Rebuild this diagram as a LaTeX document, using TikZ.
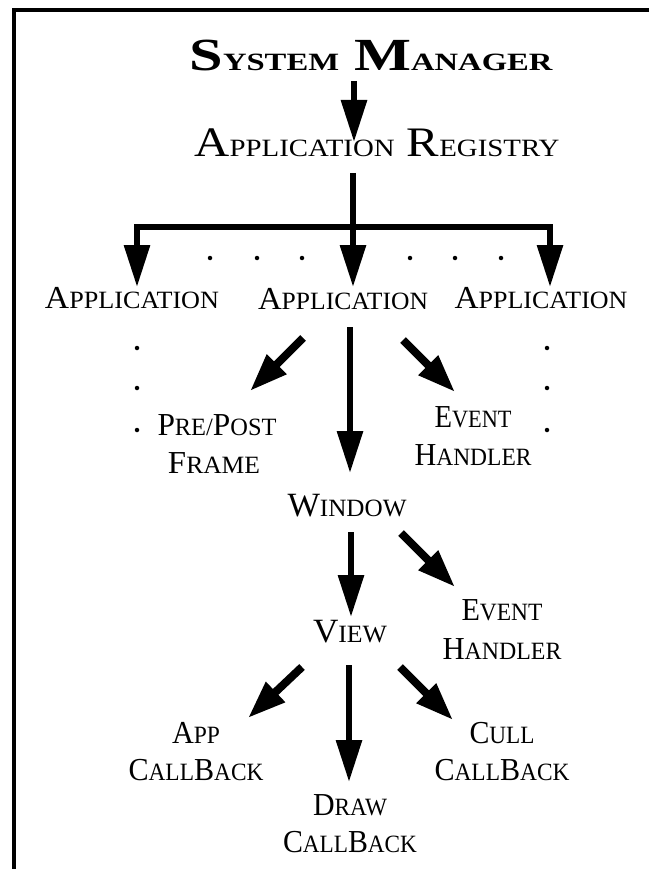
\documentclass[tikz,border=0pt]{standalone}
\usepackage{fontspec}
\setmainfont{Liberation Serif}
\usepackage{relsize}
\usepackage{graphicx}
\usetikzlibrary{arrows.meta}
\newcommand\sk[2]{#1{\relscale{0.76}#2}}
\newcommand\fitw[2]{\resizebox{#1pt}{\height}{#2}}
\begin{document}
\begin{tikzpicture}[x=1pt,y=-1pt,
  lbl/.style={inner sep=0pt, anchor=base, font=\fontsize{32}{38}\selectfont},
  biglbl/.style={lbl, font=\fontsize{34}{40}\selectfont},
  arr/.style={line width=6pt, -{Triangle[length=42pt,width=25pt]}},
  darr/.style={line width=8pt, -{Triangle[length=38pt,width=26pt]}},
  spot/.style={circle, fill, inner sep=0pt, minimum size=4.5pt},
  frame/.style={line width=4pt, line join=miter}]
\useasboundingbox (0,0) rectangle (649,869);
% partial frame
\draw[frame] (649,10) -- (14,10) -- (14,869);
% labels
\node[lbl, font=\bfseries\fontsize{46}{50}\selectfont] (sm) at (371,71) {\fitw{363}{\sk{S}{YSTEM} \sk{M}{ANAGER}}};
\node[lbl, font=\fontsize{42}{48}\selectfont] (ar) at (377,157) {\fitw{365}{\sk{A}{PPLICATION} \sk{R}{EGISTRY}}};
\node[lbl] (app1) at (132,308) {\fitw{174}{\sk{A}{PPLICATION}}};
\node[lbl] (app2) at (343,309) {\fitw{170}{\sk{A}{PPLICATION}}};
\node[lbl] (app3) at (541,308) {\fitw{173}{\sk{A}{PPLICATION}}};
\node[lbl] (pp1) at (217,435) {\fitw{119}{\sk{P}{RE/}\sk{P}{OST}}};
\node[lbl] (pp2) at (214,473) {\fitw{92}{\sk{F}{RAME}}};
\node[lbl] (eh1a) at (473,427) {\fitw{77}{\sk{E}{VENT}}};
\node[lbl] (eh1b) at (473,465) {\fitw{117}{\sk{H}{ANDLER}}};
\node[biglbl] (win) at (347,516) {\fitw{119}{\sk{W}{INDOW}}};
\node[biglbl] (view) at (350,642) {\fitw{74}{\sk{V}{IEW}}};
\node[lbl] (eh2a) at (502,620) {\fitw{81}{\sk{E}{VENT}}};
\node[lbl] (eh2b) at (502,659) {\fitw{119}{\sk{H}{ANDLER}}};
\node[lbl] (ap1) at (196,743) {\fitw{48}{\sk{A}{PP}}};
\node[lbl] (ap2) at (196,780) {\fitw{135}{\sk{C}{ALL}\sk{B}{ACK}}};
\node[lbl] (cu1) at (502,743) {\fitw{65}{\sk{C}{ULL}}};
\node[lbl] (cu2) at (502,780) {\fitw{135}{\sk{C}{ALL}\sk{B}{ACK}}};
\node[lbl] (dr1) at (350,815) {\fitw{74}{\sk{D}{RAW}}};
\node[lbl] (dr2) at (350,852) {\fitw{134}{\sk{C}{ALL}\sk{B}{ACK}}};
% connector end points
\coordinate (smS) at (354,81);   \coordinate (arN) at (354,142);
\coordinate (arS) at (353,173);  \coordinate (app2N) at (353,287);
\coordinate (barL) at (137,227); \coordinate (barR) at (550,227);
\coordinate (app1N) at (137,287); \coordinate (app3N) at (550,287);
\coordinate (app2SW) at (303,338); \coordinate (ppNE) at (250,391);
\coordinate (app2S) at (350,327); \coordinate (winN) at (350,473);
\coordinate (app2SE) at (403,340); \coordinate (ehNW) at (455,392);
\coordinate (winS) at (351,532); \coordinate (viewN) at (351,617);
\coordinate (winSE) at (401,533); \coordinate (eh2NW) at (455,587);
\coordinate (viewSW) at (302,667); \coordinate (apNE) at (248,718);
\coordinate (viewS) at (349,665); \coordinate (drN) at (349,782);
\coordinate (viewSE) at (400,667); \coordinate (cuNW) at (453,720);
% connectors
\draw[arr] (smS) -- (arN);
\draw[arr] (arS) -- (app2N);
\draw[line width=6pt, line join=miter, {Triangle[length=42pt,width=25pt]}-{Triangle[length=42pt,width=25pt]}] (app1N) -- (barL) -- (barR) -- (app3N);
\draw[darr] (app2SW) -- (ppNE);
\draw[arr] (app2S) -- (winN);
\draw[darr] (app2SE) -- (ehNW);
\draw[arr] (winS) -- (viewN);
\draw[darr] (winSE) -- (eh2NW);
\draw[darr] (viewSW) -- (apNE);
\draw[arr] (viewS) -- (drN);
\draw[darr] (viewSE) -- (cuNW);
% ellipsis dots
\foreach \x in {210,257,302,410,455,501} \node[spot] at (\x,258) {};
\foreach \y in {348,388,430} {\node[spot] at (137,\y) {}; \node[spot] at (547,\y) {};}
\end{tikzpicture}
\end{document}
